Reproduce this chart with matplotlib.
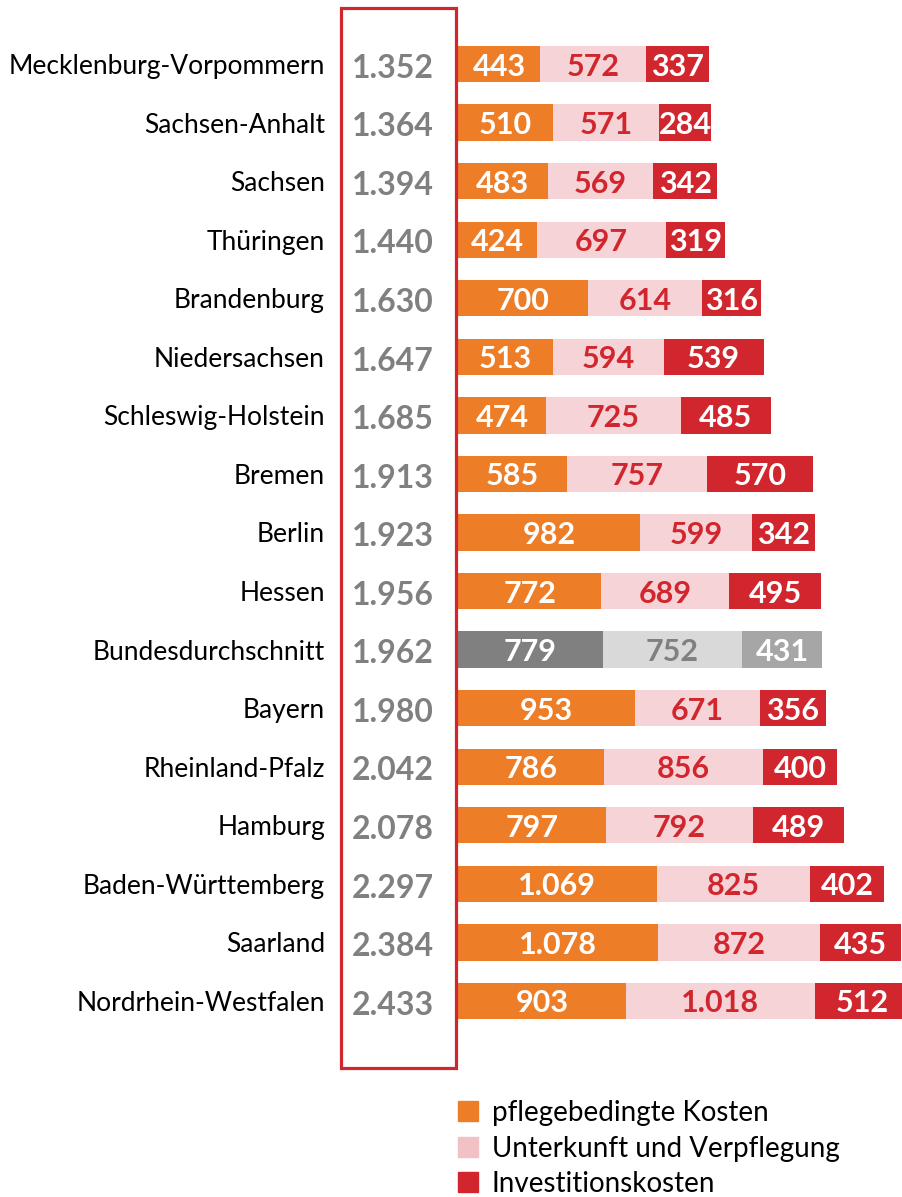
import matplotlib
matplotlib.use('Agg')
import matplotlib.pyplot as plt
from matplotlib.patches import Rectangle
from matplotlib.transforms import blended_transform_factory

# Daten (Euro pro Monat)
laender = ['Mecklenburg-Vorpommern', 'Sachsen-Anhalt', 'Sachsen', 'Thüringen',
           'Brandenburg', 'Niedersachsen', 'Schleswig-Holstein', 'Bremen',
           'Berlin', 'Hessen', 'Bundesdurchschnitt', 'Bayern',
           'Rheinland-Pfalz', 'Hamburg', 'Baden-Württemberg', 'Saarland',
           'Nordrhein-Westfalen']
pflege = [443, 510, 483, 424, 700, 513, 474, 585, 982, 772, 779, 953, 786, 797, 1069, 1078, 903]
unterkunft = [572, 571, 569, 697, 614, 594, 725, 757, 599, 689, 752, 671, 856, 792, 825, 872, 1018]
invest = [337, 284, 342, 319, 316, 539, 485, 570, 342, 495, 431, 356, 400, 489, 402, 435, 512]
gesamt = [1352, 1364, 1394, 1440, 1630, 1647, 1685, 1913, 1923, 1956, 1962, 1980,
          2042, 2078, 2297, 2384, 2433]
legende = ['pflegebedingte Kosten', 'Unterkunft und Verpflegung', 'Investitionskosten']

ORANGE = '#ED7D27'
ROSA = '#F5D3D6'
ROT = '#D2262E'
GRAU = '#808080'

plt.rcParams['font.family'] = ['Lato', 'DejaVu Sans']

def fmt(v):
    return f'{v:,}'.replace(',', '.')

W, H = 903, 1197
fig = plt.figure(figsize=(W / 100, H / 100), dpi=100)

# Achse fuer die Balken, in Pixel umgerechnet
x0 = 458
ax = fig.add_axes([x0 / W, 0, 1 - x0 / W, 1])
px_pro_euro = 0.1857
ax.set_xlim(0, (W - x0) / px_pro_euro)
y_top, schritt = 64, 58.56
ax.set_ylim((H - y_top) / schritt, -y_top / schritt)
ax.axis('off')

for i, name in enumerate(laender):
    bund = name == 'Bundesdurchschnitt'
    farben = ['#808080', '#D9D9D9', '#A6A6A6'] if bund else [ORANGE, ROSA, ROT]
    textfarben = ['white', GRAU, 'white'] if bund else ['white', ROT, 'white']
    links = 0
    for wert, f, tf in zip([pflege[i], unterkunft[i], invest[i]], farben, textfarben):
        ax.barh(i, wert, left=links, height=0.62, color=f, edgecolor='none')
        ax.text(links + wert / 2, i, fmt(wert), ha='center', va='center_baseline',
                fontsize=22, fontweight='bold', color=tf)
        links += wert

trans = blended_transform_factory(fig.transFigure, ax.transData)
for i, name in enumerate(laender):
    fig.text(325 / W, i, name, transform=trans, ha='right', va='center_baseline',
             fontsize=19, color='black')
    fig.text(393 / W, i + 0.03, fmt(gesamt[i]), transform=trans, ha='center',
             va='center_baseline', fontsize=23, fontweight='bold', color=GRAU)

# roter Rahmen um die Gesamtwerte
fig.patches.append(Rectangle((341 / W, 1 - 1068 / H), 115 / W, 1060 / H,
                             transform=fig.transFigure, fill=False,
                             edgecolor=ROT, linewidth=2.3))

# Legende
for k, (lab, f) in enumerate(zip(legende, [ORANGE, '#F2C1C5', ROT])):
    yc = 1111 + k * 35.5
    fig.patches.append(Rectangle((458 / W, 1 - (yc + 10) / H), 20 / W, 20 / H,
                                 transform=fig.transFigure, color=f))
    fig.text(492 / W, 1 - yc / H, lab, ha='left', va='center_baseline',
             fontsize=20, color='black')

fig.savefig('out.png', dpi=100)
